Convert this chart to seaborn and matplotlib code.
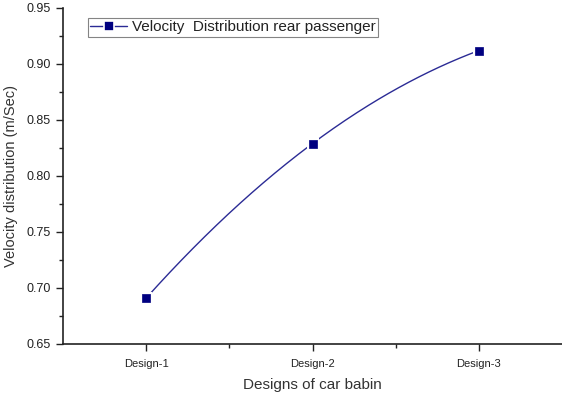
import numpy as np
import pandas as pd
import matplotlib
matplotlib.use("Agg")
import matplotlib.pyplot as plt
from matplotlib.ticker import MultipleLocator, FixedLocator
from matplotlib.lines import Line2D
import seaborn as sns

designs = ["Design-1", "Design-2", "Design-3"]
positions = [1, 2, 3]
velocity = [0.691, 0.829, 0.912]
series_label = "Velocity  Distribution rear passenger"

sns.set_theme(style="ticks")
plt.rcParams["font.family"] = ["Liberation Sans", "DejaVu Sans"]

df = pd.DataFrame({"pos": positions, "velocity": velocity, "design": designs})

fig = plt.figure(figsize=(5.62, 3.94), dpi=100)
ax = fig.add_axes([63 / 562, 50 / 394, 1 - 63 / 562, 336 / 394])

line_color = "#2b2b95"
marker_color = "#000080"

# smooth curve through the three design points (quadratic through them)
coef = np.polyfit(df["pos"], df["velocity"], 2)
xs = np.linspace(df["pos"].min(), df["pos"].max(), 200)
ax.plot(xs, np.polyval(coef, xs), color=line_color, lw=1.0, zorder=2)

# square markers with a thin white halo that breaks the curve around them
sns.scatterplot(data=df, x="pos", y="velocity", marker="s", s=64,
                color="white", edgecolor="white", linewidth=0,
                ax=ax, zorder=3, legend=False)
sns.scatterplot(data=df, x="pos", y="velocity", marker="s", s=36,
                color=marker_color, edgecolor=marker_color, linewidth=0.5,
                ax=ax, zorder=4, legend=False)

ax.set_xlim(0.5, 3.5)
ax.set_ylim(0.65, 0.95)
ax.xaxis.set_major_locator(FixedLocator(positions))
ax.set_xticklabels(designs, fontsize=8)
ax.xaxis.set_minor_locator(FixedLocator([1.5, 2.5]))
ax.yaxis.set_major_locator(MultipleLocator(0.05))
ax.yaxis.set_minor_locator(MultipleLocator(0.025))
ax.yaxis.set_major_formatter(matplotlib.ticker.FormatStrFormatter("%.2f"))
ax.tick_params(axis="both", which="major", direction="out", length=5, width=1,
               color="#222222", labelsize=9, labelcolor="#222222", pad=4)
ax.tick_params(axis="x", which="major", labelsize=8, pad=6)
ax.tick_params(axis="both", which="minor", direction="out", length=3, width=1,
               color="#222222")

for side in ["top", "right"]:
    ax.spines[side].set_visible(False)
for side in ["left", "bottom"]:
    ax.spines[side].set_color("#222222")
    ax.spines[side].set_linewidth(1.2)

ax.set_xlabel("Designs of car babin", fontsize=11, color="#333333", labelpad=6)
ax.set_ylabel("Velocity distribution (m/Sec)", fontsize=10.5, color="#333333", labelpad=6)

handle = Line2D([0], [0], color=line_color, lw=1.0, marker="s", markersize=6.5,
                markerfacecolor=marker_color, markeredgecolor="white",
                markeredgewidth=1.2)
leg = ax.legend([handle], [series_label], loc="upper left",
                bbox_to_anchor=(25 / 499, 1 - 10 / 336), fontsize=11,
                frameon=True, fancybox=False, borderpad=0.15,
                handlelength=2.4, handletextpad=0.3, borderaxespad=0)
leg.get_frame().set_edgecolor("#666666")
leg.get_frame().set_linewidth(0.8)
for t in leg.get_texts():
    t.set_color("#222222")

fig.savefig("out.png", dpi=100)
